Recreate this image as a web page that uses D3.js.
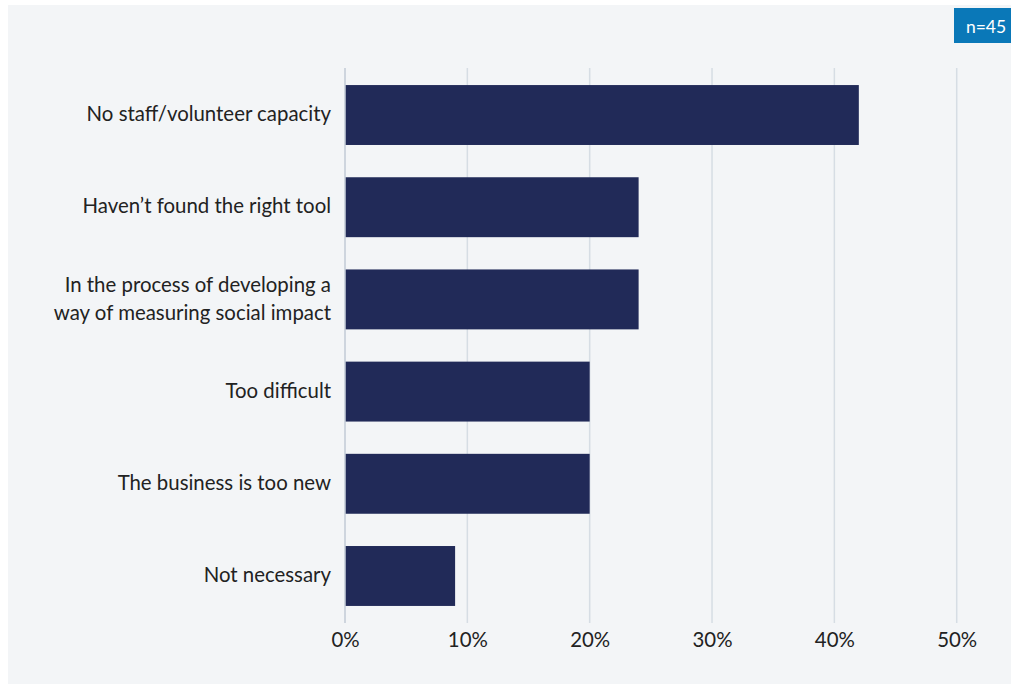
<!DOCTYPE html>
<html>
<head>
<meta charset="utf-8">
<script src="https://cdn.jsdelivr.net/npm/d3@7"></script>
<style>
  html, body { margin: 0; padding: 0; background: #ffffff; }
  svg { display: block; }
  text { font-family: Lato, "Open Sans", sans-serif; }
</style>
</head>
<body>
<svg id="chart" width="1011" height="684"></svg>
<script>
// Reasons for not measuring social impact (share of respondents, %)
const categories = [
  ["No staff/volunteer capacity"],
  ["Haven\u2019t found the right tool"],
  ["In the process of developing a", "way of measuring social impact"],
  ["Too difficult"],
  ["The business is too new"],
  ["Not necessary"]
];
const values = [42, 24, 24, 20, 20, 9];
const tickValues = [0, 10, 20, 30, 40, 50];
const sampleLabel = "n=45";

const W = 1011, H = 684;
const svg = d3.select("#chart");

// panel background
svg.append("rect")
  .attr("x", 8).attr("y", 5)
  .attr("width", W - 8).attr("height", H - 5)
  .attr("fill", "#f3f5f7");

// sample size badge
const badge = svg.append("g");
badge.append("rect")
  .attr("x", 954).attr("y", 8)
  .attr("width", 57).attr("height", 35)
  .attr("fill", "#0a78b8");
badge.append("text")
  .attr("x", 986).attr("y", 26)
  .attr("text-anchor", "middle")
  .attr("dominant-baseline", "central")
  .attr("fill", "#ffffff")
  .attr("font-size", 17.5)
  .text(sampleLabel);

const x = d3.scaleLinear().domain([0, 50]).range([345, 956.7]);
const y = d3.scaleBand()
  .domain(d3.range(categories.length))
  .range([68, 623])
  .paddingInner(0.35)
  .paddingOuter(0.185);

// vertical gridlines
svg.append("g")
  .selectAll("line")
  .data(tickValues)
  .join("line")
  .attr("x1", d => x(d)).attr("x2", d => x(d))
  .attr("y1", 68).attr("y2", 623)
  .attr("stroke", "#d6dde4")
  .attr("stroke-width", 1.5);

// bars
svg.append("g")
  .selectAll("rect")
  .data(values)
  .join("rect")
  .attr("x", x(0))
  .attr("y", (d, i) => y(i))
  .attr("width", d => x(d) - x(0))
  .attr("height", y.bandwidth())
  .attr("fill", "#212a58");

// baseline at zero
svg.append("line")
  .attr("x1", x(0)).attr("x2", x(0))
  .attr("y1", 68).attr("y2", 623)
  .attr("stroke", "#c9d1da")
  .attr("stroke-width", 1.5);

// x axis tick labels
const xAxis = d3.axisBottom(x)
  .tickValues(tickValues)
  .tickFormat(d => d + "%")
  .tickSize(0)
  .tickPadding(0);
const gx = svg.append("g")
  .attr("transform", "translate(0,632)")
  .call(xAxis);
gx.select(".domain").remove();
gx.selectAll("text")
  .attr("font-family", "Lato, sans-serif")
  .attr("font-size", 20.4)
  .attr("fill", "#222222")
  .attr("dy", "0.75em");

// category labels
const lineH = 28;
const labels = svg.append("g")
  .selectAll("text")
  .data(categories)
  .join("text")
  .attr("text-anchor", "end")
  .attr("font-size", 20.4)
  .attr("fill", "#222222")
  .attr("y", (d, i) => y(i) + y.bandwidth() / 2 - 1 - (d.length - 1) * lineH / 2);
labels.selectAll("tspan")
  .data(d => d)
  .join("tspan")
  .attr("x", 331)
  .attr("dy", (d, i) => i === 0 ? "0.35em" : lineH)
  .text(d => d);
</script>
</body>
</html>
